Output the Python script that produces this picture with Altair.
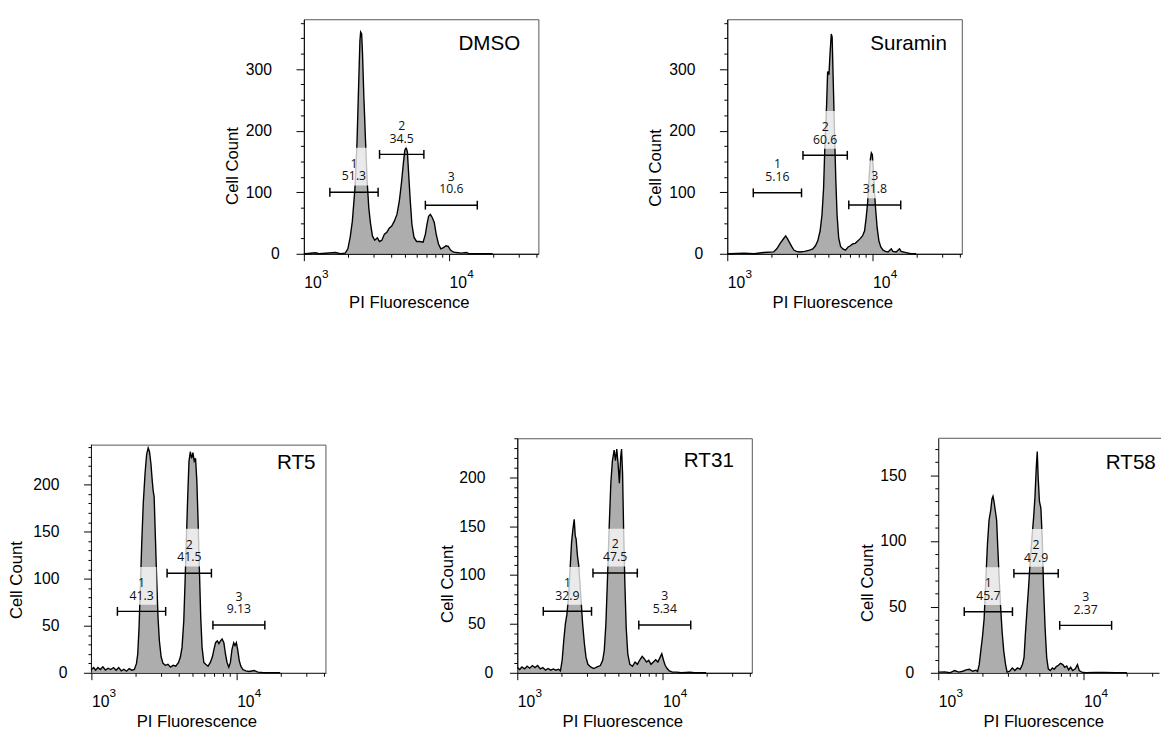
import altair as alt
import pandas as pd

FONT = "Liberation Sans, Arial, Helvetica, sans-serif"
GATE_FONT = "Open Sans, DejaVu Sans, sans-serif"
FILL = "#8a8a8a"

DMSO = [(3.00, 0), (3.01, 0), (3.08, 1.6), (3.105, 0), (3.217, 2), (3.251, 0), (3.285, 1),
        (3.303, 8), (3.319, 27), (3.334, 53), (3.352, 107), (3.366, 181), (3.377, 272),
        (3.386, 346), (3.391, 360), (3.398, 357), (3.404, 325), (3.413, 256), (3.425, 181),
        (3.436, 117), (3.447, 75), (3.458, 51), (3.472, 29), (3.488, 22), (3.506, 26),
        (3.521, 20), (3.537, 22), (3.555, 32), (3.571, 35), (3.589, 42), (3.605, 45),
        (3.623, 53), (3.641, 64), (3.657, 85), (3.672, 115), (3.686, 149), (3.695, 168),
        (3.704, 173), (3.713, 165), (3.722, 128), (3.733, 85), (3.744, 48), (3.758, 27),
        (3.776, 20), (3.798, 20), (3.821, 19), (3.837, 32), (3.848, 48), (3.859, 61),
        (3.871, 64), (3.884, 59), (3.898, 51), (3.911, 32), (3.927, 16), (3.943, 8),
        (3.961, 10), (3.979, 13), (3.994, 12), (4.010, 6), (4.028, 3), (4.051, 2),
        (4.084, 1), (4.118, 2), (4.141, 0), (4.30, 0)]

SURAMIN = [(3.00, 0), (3.015, 0), (3.116, 1), (3.184, 0), (3.251, 2), (3.319, 3), (3.341, 8),
           (3.364, 17), (3.386, 24), (3.402, 29), (3.413, 25), (3.427, 19), (3.443, 12),
           (3.458, 6), (3.476, 4), (3.499, 3), (3.533, 4), (3.567, 6), (3.589, 8), (3.607, 13),
           (3.623, 21), (3.639, 37), (3.652, 63), (3.663, 106), (3.672, 175), (3.684, 243),
           (3.691, 296), (3.700, 291), (3.707, 323), (3.716, 357), (3.722, 352), (3.729, 286),
           (3.738, 201), (3.747, 122), (3.756, 63), (3.767, 26), (3.780, 12), (3.796, 8),
           (3.814, 6), (3.832, 11), (3.848, 13), (3.863, 16), (3.881, 17), (3.900, 21),
           (3.916, 25), (3.931, 29), (3.945, 37), (3.956, 58), (3.967, 85), (3.976, 122),
           (3.985, 153), (3.992, 164), (3.999, 161), (4.005, 138), (4.012, 106), (4.021, 74),
           (4.032, 42), (4.044, 21), (4.057, 11), (4.073, 6), (4.089, 4), (4.107, 3),
           (4.129, 8), (4.140, 4), (4.163, 3), (4.186, 8), (4.197, 4), (4.231, 2),
           (4.265, 0), (4.30, 0)]

RT5 = [(3.000, 3.5), (3.016, 5.6), (3.029, 2.8), (3.045, 5.6), (3.061, 3.5), (3.079, 6.3),
       (3.097, 2.8), (3.115, 4.9), (3.133, 3.5), (3.152, 5.6), (3.170, 2.8), (3.188, 5.6),
       (3.206, 2.1), (3.224, 3.8), (3.242, 1.7), (3.260, 4.5), (3.278, 2.8), (3.296, 3.5),
       (3.310, 9.7), (3.319, 20), (3.328, 48), (3.337, 90), (3.346, 135), (3.357, 180),
       (3.369, 211), (3.380, 232), (3.391, 239), (3.400, 235), (3.410, 222), (3.419, 204),
       (3.425, 194), (3.432, 187), (3.441, 142), (3.450, 97), (3.459, 58), (3.468, 34),
       (3.480, 17), (3.493, 10), (3.509, 8), (3.527, 9), (3.545, 6), (3.563, 8), (3.581, 7),
       (3.600, 11), (3.613, 17), (3.624, 27), (3.636, 55), (3.645, 97), (3.654, 142),
       (3.663, 187), (3.672, 225), (3.681, 235), (3.690, 228), (3.699, 234), (3.708, 225),
       (3.717, 228), (3.726, 204), (3.735, 159), (3.744, 107), (3.753, 58), (3.762, 27),
       (3.774, 11), (3.787, 9), (3.803, 7), (3.819, 11), (3.833, 17), (3.844, 25),
       (3.855, 32), (3.867, 34), (3.878, 31), (3.889, 34), (3.900, 36), (3.912, 32),
       (3.923, 20), (3.934, 11), (3.946, 6), (3.957, 11), (3.968, 25), (3.980, 32),
       (3.989, 29), (3.998, 32), (4.007, 25), (4.018, 13), (4.029, 7), (4.043, 3.5),
       (4.063, 2), (4.086, 1.4), (4.120, 2.4), (4.147, 0.7), (4.176, 0.3), (4.210, 0),
       (4.30, 0)]

RT31 = [(3.000, 5.4), (3.016, 3.4), (3.032, 6.0), (3.050, 4.0), (3.068, 6.7), (3.086, 4.7),
        (3.104, 7.4), (3.122, 5.4), (3.140, 7.4), (3.158, 4.0), (3.176, 5.4), (3.194, 2.7),
        (3.212, 4.4), (3.230, 2.7), (3.248, 4.0), (3.266, 2.7), (3.284, 3.7), (3.297, 2.0),
        (3.309, 12.8), (3.320, 33), (3.331, 50), (3.342, 60), (3.354, 80), (3.365, 110),
        (3.374, 134), (3.383, 147), (3.392, 157), (3.399, 140), (3.405, 137), (3.414, 120),
        (3.423, 110), (3.432, 90), (3.441, 70), (3.450, 50), (3.462, 30), (3.473, 16),
        (3.486, 8.7), (3.505, 6), (3.527, 4.4), (3.550, 6), (3.572, 7.4), (3.588, 12.8),
        (3.599, 23), (3.610, 50), (3.622, 100), (3.633, 150), (3.644, 194), (3.655, 217),
        (3.667, 228), (3.676, 217), (3.685, 229), (3.694, 214), (3.703, 194), (3.712, 221),
        (3.718, 229), (3.725, 204), (3.732, 147), (3.741, 90), (3.750, 46), (3.761, 19),
        (3.775, 8.7), (3.793, 6.7), (3.811, 11), (3.827, 8.7), (3.842, 12.8), (3.860, 16.8),
        (3.874, 14.4), (3.890, 11), (3.905, 12.8), (3.921, 8.7), (3.937, 11), (3.953, 13.4),
        (3.968, 11), (3.984, 16), (3.995, 19.5), (4.007, 12.8), (4.018, 7.7), (4.032, 4.4),
        (4.047, 2), (4.068, 0.7), (4.097, 0.7), (4.131, 0), (4.187, 0.7), (4.221, 0),
        (4.30, 0)]

RT58 = [(3.000, 0.5), (3.045, 0.7), (3.079, 0), (3.113, 1.7), (3.140, 0.5), (3.169, 1.2),
        (3.192, 2.2), (3.214, 2.7), (3.237, 1.2), (3.260, 2), (3.271, 1), (3.282, 6.2),
        (3.293, 16.6), (3.305, 27.7), (3.316, 41), (3.327, 69), (3.339, 98), (3.350, 116),
        (3.361, 123), (3.370, 132), (3.377, 134), (3.384, 130), (3.393, 123), (3.402, 116),
        (3.411, 93), (3.420, 71), (3.429, 51), (3.440, 31), (3.451, 16.6), (3.463, 6.7),
        (3.474, 0.5), (3.492, 1.2), (3.510, 3.7), (3.528, 1.7), (3.546, 3.7), (3.564, 2.7),
        (3.580, 6.2), (3.591, 11.6), (3.600, 29), (3.612, 49), (3.623, 66), (3.634, 86),
        (3.646, 103), (3.657, 118), (3.666, 133), (3.675, 155), (3.682, 168), (3.688, 149),
        (3.697, 130), (3.707, 125), (3.716, 103), (3.725, 66), (3.736, 34), (3.747, 11.6),
        (3.758, 3), (3.772, 1.7), (3.786, 3.7), (3.799, 2.7), (3.813, 4.7), (3.828, 5.7),
        (3.842, 7.2), (3.858, 6.2), (3.871, 4.2), (3.885, 5.2), (3.898, 2.2), (3.912, 4.2),
        (3.926, 1.7), (3.944, 3), (3.959, 6.2), (3.971, 1.7), (3.989, 0.5), (4.016, 0),
        (4.084, 0.2), (4.140, 0.2), (4.219, 0), (4.30, 0)]

GATE_NUM = ["1", "2", "3"]
GATE_LO = [1510, 3320, 6865]
GATE_HI = [3245, 6705, 15640]

# decade labels: 10 with a superscript exponent
DECADES = [1000, 10000]
EXPONENTS = ["3", "4"]

PANELS = [
    dict(name="DMSO", hist=DMSO, gate_y=[100, 161.5, 79], pct=["51.3", "34.5", "10.6"],
         w=239, h=239, xmax=41200, ymax=381, minor=25, major=100, top=0,
         ext_l=84, ext_t=-20, ext_b=66, name_x=220.5, name_y=31, tx=-68, ty=149, border="full"),
    dict(name="Suramin", hist=SURAMIN, gate_y=[99, 160, 79.4], pct=["5.16", "60.6", "31.8"],
         w=239, h=239, xmax=41200, ymax=381, minor=25, major=100, top=0,
         ext_l=89, ext_t=-20, ext_b=66, name_x=223.8, name_y=31, tx=-68, ty=151,
         border="full"),
    dict(name="RT5", hist=RT5, gate_y=[65.3, 105.9, 50.7], pct=["41.3", "41.5", "9.13"],
         w=239, h=239, xmax=41200, ymax=249.3, minor=10, major=50, top=7,
         ext_l=83.7, ext_t=-25, ext_b=60, name_x=228.3, name_y=31.3, tx=-71, ty=144,
         border="manual"),
    dict(name="RT31", hist=RT31, gate_y=[62.9, 102.1, 48.9], pct=["32.9", "47.5", "5.34"],
         w=239, h=239, xmax=41200, ymax=240, minor=10, major=50, top=0,
         ext_l=91, ext_t=-25, ext_b=60, name_x=220.7, name_y=29.7, tx=-66, ty=148,
         border="full"),
    dict(name="RT58", hist=RT58, gate_y=[46.4, 75.4, 36], pct=["45.7", "47.9", "2.37"],
         w=225, h=239, xmax=33200, ymax=178, minor=10, major=50, top=0,
         ext_l=86.5, ext_t=-25, ext_b=60, name_x=221.7, name_y=31.3, tx=-66.6, ty=147,
         border="open"),
]

X_TICKS = [1000, 2000, 3000, 4000, 5000, 6000, 7000, 8000, 9000, 10000, 20000, 30000, 40000]
BOX_PATH = "M-0.79,-1H0.79V1H-0.79Z"
CAP_PATH = "M0,-1L0,1"
ONE = pd.DataFrame({"k": [0]})
LABEL_BASE = 33  # px below the x axis


def vrule(x, y, y2, color, sw=1, op=1):
    return alt.Chart(ONE).mark_rule(color=color, strokeWidth=sw, opacity=op).encode(
        x=alt.value(x), y=alt.value(y), y2=alt.value(y2))


def hrule(x, x2, y, color, sw=1, op=1):
    return alt.Chart(ONE).mark_rule(color=color, strokeWidth=sw, opacity=op).encode(
        x=alt.value(x), x2=alt.value(x2), y=alt.value(y))


def make_panel(p):
    hist = pd.DataFrame({"x": [10 ** e for e, _ in p["hist"]], "c": [c for _, c in p["hist"]]})
    gates = pd.DataFrame({
        "x1": GATE_LO, "x2": GATE_HI,
        "xc": [(lo * hi) ** 0.5 for lo, hi in zip(GATE_LO, GATE_HI)],
        "y": p["gate_y"],
        "label": [n + "\n" + v for n, v in zip(GATE_NUM, p["pct"])],
    })
    sup = pd.DataFrame({"x": DECADES, "e": EXPONENTS})
    w, h = p["w"], p["h"]
    xticks = [t for t in X_TICKS if t <= p["xmax"]]
    xscale = alt.Scale(type="log", domain=[1000, p["xmax"]], nice=False)
    yscale = alt.Scale(domain=[0, p["ymax"]], nice=False)
    xaxis = alt.Axis(
        values=xticks, tickCount=200,
        labelExpr="datum.value == 1000 || datum.value == 10000 ? '10' : ''",
        tickSize={"condition": {"test": "datum.value == 1000 || datum.value == 10000", "value": 7},
                  "value": 3.5},
        labelAlign="left", labelBaseline="alphabetic", labelPadding=LABEL_BASE - 6,
        labelFontSize=16, labelFlush=False, labelOverlap=False,
        title="PI Fluorescence", titleFontSize=17, titleX=107, titleY=55,
        titleBaseline="alphabetic", titleAlign="center",
    )
    yvals = list(range(0, int(p["ymax"]) + 1, p["minor"]))
    majors = [v for v in yvals if v % p["major"] == 0]
    yaxis = alt.Axis(
        values=yvals, tickCount=200,
        labelExpr=f"indexof({majors}, datum.value) >= 0 ? datum.label : ''",
        tickSize={"condition": {"test": f"indexof({majors}, datum.value) >= 0", "value": 8},
                  "value": 3.5},
        labelPadding={"condition": {"test": "datum.value == 0", "value": 17}, "value": 25},
        labelFontSize=16, labelOverlap=False, labelFlush=False,
        domain=(p["border"] != "manual"),
        title="Cell Count", titleFontSize=17, titleX=p["tx"], titleY=p["ty"],
        titleBaseline="alphabetic", titleAngle=270,
    )

    base = alt.Chart(hist).mark_area(
        color=FILL, line={"color": "black", "strokeWidth": 1.4}, interpolate="linear"
    ).encode(
        x=alt.X("x:Q", scale=xscale, axis=xaxis),
        y=alt.Y("c:Q", scale=yscale, axis=yaxis),
    )
    g = alt.Chart(gates)
    X1 = alt.X("x1:Q", title="PI Fluorescence")
    Y = alt.Y("y:Q", title="Cell Count")
    boxes = g.mark_point(shape=BOX_PATH, size=1480, filled=True, color="white",
                         opacity=0.75, strokeWidth=0, yOffset=-26).encode(
        x=alt.X("xc:Q", title="PI Fluorescence"), y=Y)
    rules = g.mark_rule(color="black", strokeWidth=1.5).encode(x=X1, x2="x2:Q", y=Y)
    cap_lo = g.mark_point(shape=CAP_PATH, size=81, filled=False, color="black",
                          strokeWidth=1.5, opacity=1).encode(x=X1, y=Y)
    cap_hi = g.mark_point(shape=CAP_PATH, size=81, filled=False, color="black",
                          strokeWidth=1.5, opacity=1).encode(
        x=alt.X("x2:Q", title="PI Fluorescence"), y=Y)
    labels = g.mark_text(font=GATE_FONT, fontSize=12.5, lineBreak="\n", lineHeight=13,
                         baseline="alphabetic", align="center", dy=-25, color="#111").encode(
        x=alt.X("xc:Q", title="PI Fluorescence"), y=Y, text="label:N")
    exps = alt.Chart(sup).mark_text(font=FONT, fontSize=12, align="left", baseline="alphabetic",
                                    dx=18.5, color="black").encode(
        x=alt.X("x:Q", title="PI Fluorescence"), y=alt.value(h + LABEL_BASE - 8), text="e:N")
    name = alt.Chart(ONE).mark_text(font=FONT, fontSize=21, align="right",
                                    baseline="alphabetic", color="black").encode(
        x=alt.value(p["name_x"]), y=alt.value(p["name_y"]), text=alt.value(p["name"]))
    layers = [base, boxes, rules, cap_lo, cap_hi, labels, exps, name,
              hrule(-p["ext_l"], 0, h / 2, "white", op=0),
              vrule(1, p["ext_t"], h + p["ext_b"], "white", op=0)]
    props = dict(width=w, height=h)
    if p["border"] == "open":
        layers.append(hrule(0, w + 2, 0, "#555"))
        props["view"] = alt.ViewBackground(strokeOpacity=0)
    elif p["border"] == "manual":
        t = p["top"]
        layers += [hrule(0, w, t, "#555"), vrule(w, t, h, "#555"), vrule(0, t - 0.5, h, "black")]
        props["view"] = alt.ViewBackground(strokeOpacity=0)
    return alt.layer(*layers).properties(**props)


spacer = alt.layer(
    hrule(0, 29.8, 100, "white", op=0)
).properties(width=29.8, height=239, view=alt.ViewBackground(strokeOpacity=0))

charts = [make_panel(p) for p in PANELS]
top = alt.hconcat(spacer, charts[0], charts[1], spacing=101.5)
bottom = alt.hconcat(charts[2], charts[3], charts[4], spacing=102)
chart = alt.vconcat(top, bottom, spacing=95).properties(
    padding={"left": 0, "top": -16.5, "right": 0, "bottom": 0},
    background="white",
).configure_view(stroke="#555", strokeWidth=1).configure_axis(
    domainColor="black", tickColor="black", labelColor="black", titleColor="black",
    labelFont=FONT, titleFont=FONT, titleFontWeight="normal", grid=False,
    domainWidth=1, tickWidth=1,
)

chart.save("out.html", embed_options={"renderer": "svg", "actions": False})
